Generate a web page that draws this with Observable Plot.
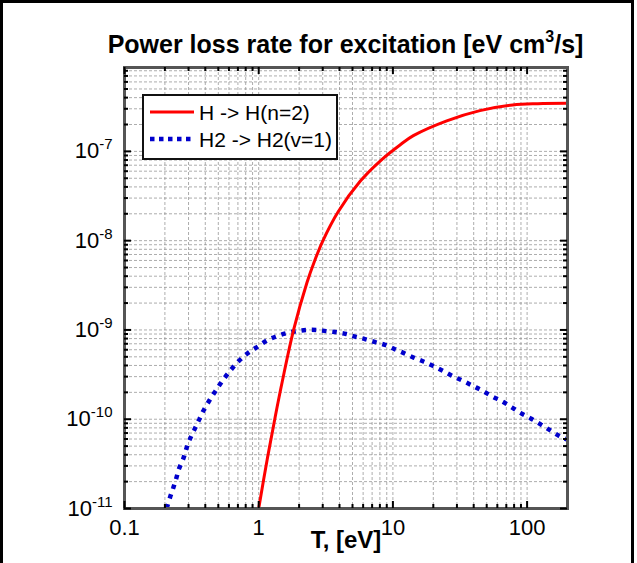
<!DOCTYPE html>
<html>
<head>
<meta charset="utf-8">
<script src="https://cdn.jsdelivr.net/npm/d3@7"></script>
<script src="https://cdn.jsdelivr.net/npm/@observablehq/plot@0.6"></script>
<style>
  body { margin: 0; background: #fff; font-family: "Liberation Sans", Arial, sans-serif; }
  #wrap { position: relative; width: 637px; height: 563px; overflow: hidden; background: #fff; }
  #border { position: absolute; left: 0; top: 0; width: 628px; height: 620px; border: 3px solid #000; pointer-events: none; }
  #title { position: absolute; top: 32px; left: 345.5px; transform: translateX(-50%); white-space: nowrap;
           font-size: 25px; line-height: 25px; font-weight: bold; color: #000; }
  #title sup { font-size: 16px; line-height: 0; position: relative; top: -2px; }
  #chart { position: absolute; left: 0; top: 58px; }
  #legend { position: absolute; left: 142px; top: 94px; width: 196px; height: 66px; box-sizing: border-box;
            border: 2px solid #111; background: #fff; overflow: visible; }
  #legend svg { position: absolute; left: -2px; top: -2px; overflow: visible; }
</style>
</head>
<body>
<div id="wrap">
  <div id="title">Power loss rate for excitation [eV cm<sup>3</sup>/s]</div>
  <div id="chart"></div>
  <div id="legend"></div>
  <div id="border"></div>
</div>
<script>
// ---- data ----
const seriesNames = ["H -> H(n=2)", "H2 -> H2(v=1)"];
const seriesColors = ["#ff0000", "#0000cc"];

const redT = [1, 1.155, 1.33, 1.5, 1.82, 2.29, 2.6, 3.0, 3.91, 5.7, 8.03, 11.3, 14.2, 25.2, 44.5, 78, 120, 200];
const redV = [1.0e-11, 3.5e-11, 1.08e-10, 2.66e-10, 1.0e-9, 3.4e-9, 5.85e-9, 9.9e-9, 2.11e-8, 4.62e-8, 7.8e-8, 1.18e-7, 1.5e-7, 2.2e-7, 2.86e-7, 3.31e-7, 3.42e-7, 3.45e-7];

const blueT = [0.206, 0.218, 0.231, 0.243, 0.254, 0.274, 0.288, 0.305, 0.331, 0.36, 0.388, 0.43, 0.474, 0.537, 0.608, 0.706, 0.828, 0.983, 1.167, 1.377, 1.626, 1.93, 2.29, 2.69, 3.17, 3.83, 4.49, 5.26, 6.18, 7.41, 8.75, 10.3, 11.97, 14.3, 17.06, 20.0, 23.5, 27.9, 33.4, 39.5, 46.3, 55.3, 64.9, 76.9, 89.8, 106.6, 127, 149, 176, 200];
const blueV = [1.0e-11, 1.32e-11, 1.71e-11, 2.17e-11, 2.75e-11, 3.6e-11, 4.6e-11, 5.85e-11, 7.6e-11, 9.9e-11, 1.25e-10, 1.63e-10, 2.04e-10, 2.7e-10, 3.43e-10, 4.44e-10, 5.48e-10, 6.5e-10, 7.7e-10, 8.55e-10, 9.24e-10, 9.7e-10, 1.0e-9, 1.0e-9, 9.7e-10, 9.4e-10, 9.0e-10, 8.4e-10, 7.9e-10, 7.3e-10, 6.8e-10, 6.1e-10, 5.53e-10, 4.9e-10, 4.4e-10, 3.94e-10, 3.49e-10, 3.04e-10, 2.68e-10, 2.36e-10, 2.09e-10, 1.79e-10, 1.59e-10, 1.36e-10, 1.17e-10, 1.02e-10, 8.7e-11, 7.5e-11, 6.4e-11, 5.9e-11];

const xMajor = [0.1, 1, 10, 100];
const xMinor = [0.2, 0.3, 0.4, 0.5, 0.6, 0.7, 0.8, 0.9, 2, 3, 4, 5, 6, 7, 8, 9, 20, 30, 40, 50, 60, 70, 80, 90];
const yMajor = [1e-11, 1e-10, 1e-9, 1e-8, 1e-7];
const yMinor = [2e-11, 3e-11, 4e-11, 5e-11, 6e-11, 7e-11, 8e-11, 9e-11,
                2e-10, 3e-10, 4e-10, 5e-10, 6e-10, 7e-10, 8e-10, 9e-10,
                2e-9, 3e-9, 4e-9, 5e-9, 6e-9, 7e-9, 8e-9, 9e-9,
                2e-8, 3e-8, 4e-8, 5e-8, 6e-8, 7e-8, 8e-8, 9e-8,
                2e-7, 3e-7, 4e-7, 5e-7, 6e-7, 7e-7, 8e-7];
const xLabels = ["0.1", "1", "10", "100"];
const yExponents = ["-11", "-10", "-9", "-8", "-7"];
const xTitle = "T, [eV]";

// ---- build ----
const red = redT.map((T, i) => ({T, v: redV[i]}));
const blue = blueT.map((T, i) => ({T, v: blueV[i]}));

const W = 637, H = 505, mL = 124, mR = 70, mT = 9, mB = 55;
const plotW = W - mL - mR, plotH = H - mT - mB;
const tickStyle = {stroke: "#000", strokeWidth: 2};
const gridStyle = {stroke: "#8a8a8a", strokeOpacity: 0.7, strokeDasharray: "3,2", strokeWidth: 1};

const plot = Plot.plot({
  width: W, height: H, marginLeft: mL, marginRight: mR, marginTop: mT, marginBottom: mB,
  style: {fontFamily: "'Liberation Sans', Arial, sans-serif", background: "transparent", color: "#000"},
  x: {type: "log", domain: [0.1, 200]},
  y: {type: "log", domain: [1e-11, 8.7e-7]},
  marks: [
    Plot.gridX(xMajor.concat(xMinor), gridStyle),
    Plot.gridY(yMajor.concat(yMinor), gridStyle),
    Plot.line(blue, {x: "T", y: "v", stroke: seriesColors[1], strokeWidth: 4.5, strokeDasharray: "4.5,5.8",
                     strokeLinecap: "butt", strokeLinejoin: "miter", curve: "catmull-rom", clip: true}),
    Plot.line(red, {x: "T", y: "v", stroke: seriesColors[0], strokeWidth: 3, curve: "catmull-rom", clip: true}),
    Plot.frame({stroke: "#555", strokeWidth: 3}),
    // inward ticks on all four sides
    Plot.tickX(xMajor, {x: d => d, insetTop: plotH - 7, ...tickStyle}),
    Plot.tickX(xMinor, {x: d => d, insetTop: plotH - 4, ...tickStyle}),
    Plot.tickX(xMajor, {x: d => d, insetBottom: plotH - 7, ...tickStyle}),
    Plot.tickX(xMinor, {x: d => d, insetBottom: plotH - 4, ...tickStyle}),
    Plot.tickY(yMajor, {y: d => d, insetRight: plotW - 7, ...tickStyle}),
    Plot.tickY(yMinor, {y: d => d, insetRight: plotW - 4, ...tickStyle}),
    Plot.tickY(yMajor, {y: d => d, insetLeft: plotW - 7, ...tickStyle}),
    Plot.tickY(yMinor, {y: d => d, insetLeft: plotW - 4, ...tickStyle}),
    Plot.axisX({ticks: xMajor, tickSize: 0, tickPadding: 11, fontSize: 22, label: null,
                tickFormat: d => xLabels[xMajor.indexOf(d)]}),
    Plot.axisY({ticks: yMajor, tickSize: 0, tickPadding: 12, fontSize: 22, label: null,
                tickFormat: d => "10^" + yExponents[yMajor.indexOf(d)]}),
    Plot.text([xTitle], {frameAnchor: "bottom", dy: 39, fontSize: 24, fontWeight: "bold", text: d => d})
  ]
});

// superscripts on y tick labels
const NS = "http://www.w3.org/2000/svg";
plot.querySelectorAll('g[aria-label="y-axis tick label"] text').forEach(t => {
  const [b, e] = t.textContent.split("^");
  t.textContent = "";
  const a = document.createElementNS(NS, "tspan"); a.textContent = b; t.appendChild(a);
  const s = document.createElementNS(NS, "tspan");
  s.setAttribute("dy", "-9"); s.setAttribute("font-size", "15"); s.textContent = e; t.appendChild(s);
});
document.getElementById("chart").appendChild(plot);

// legend (HTML overlay with real text)
const lg = document.getElementById("legend");
lg.innerHTML = `<svg width="196" height="66">
  <line x1="8" x2="52" y1="18" y2="18" stroke="${seriesColors[0]}" stroke-width="3"/>
  <line x1="8" x2="52" y1="45" y2="45" stroke="${seriesColors[1]}" stroke-width="4.5" stroke-dasharray="4.5,4.5"/>
  <text x="57" y="25.5" font-size="21" font-family="'Liberation Sans', Arial, sans-serif">${seriesNames[0].replace(/>/g, "&gt;")}</text>
  <text x="57" y="52.5" font-size="21" font-family="'Liberation Sans', Arial, sans-serif">${seriesNames[1].replace(/>/g, "&gt;")}</text>
</svg>`;
</script>
</body>
</html>
